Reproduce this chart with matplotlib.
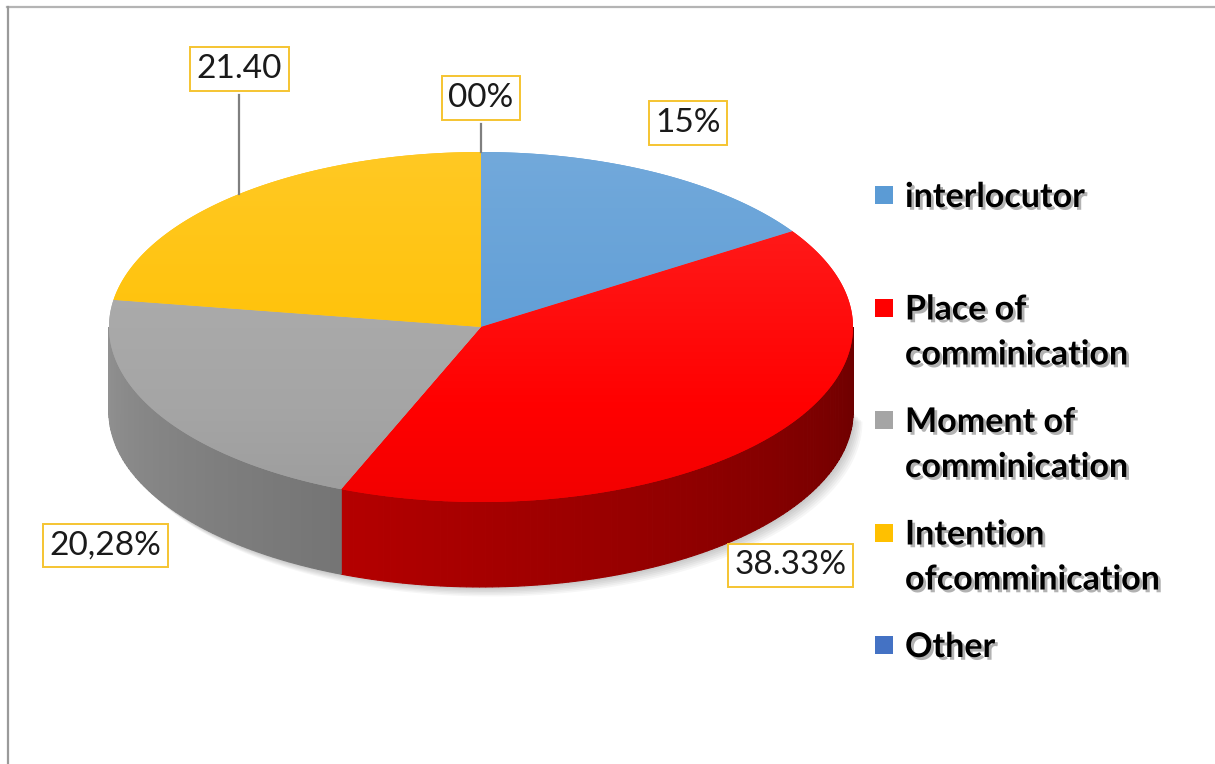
import numpy as np
import matplotlib.pyplot as plt
from matplotlib.patches import Polygon, Rectangle
from matplotlib.colors import to_rgb
import matplotlib.patheffects as pe

plt.rcParams["font.family"] = ["Lato", "DejaVu Sans"]

# datos del gráfico
categorias = ["interlocutor", "Place of\ncomminication", "Moment of\ncomminication",
              "Intention\nofcomminication", "Other"]
valores = [15, 38.33, 20.28, 21.40, 0]
etiquetas = ["15%", "38.33%", "20,28%", "21.40", "00%"]
colores = ["#5b9bd5", "#ff0000", "#a5a5a5", "#ffc000", "#4472c4"]

W, H = 1215, 764
fig = plt.figure(figsize=(W / 100, H / 100), dpi=100)
ax = fig.add_axes([0, 0, 1, 1])

# geometría de la torta 3D (en píxeles)
cx, cy, rx, ry, prof = 481, 327, 372, 175, 85


def borde(t0, t1, n=100):
    # ángulo medido en sentido horario desde las 12
    t = np.radians(np.linspace(t0, t1, n))
    return cx + rx * np.sin(t), cy - ry * np.cos(t)


fracs = np.array(valores) / sum(valores)
limites = np.concatenate([[0], np.cumsum(fracs) * 360])

# sombra suave debajo de la torta
xs, ys = borde(90, 270, 120)
for k in range(6):
    off = 2 + k * 1.5
    sombra = np.column_stack([np.r_[xs + off, cx + off], np.r_[ys + prof + off, cy + prof]])
    ax.add_patch(Polygon(sombra, closed=True, fc="black", ec="none", alpha=0.035, zorder=0))


def pared(t0, t1, color):
    lo, hi = max(t0, 90), min(t1, 270)
    if hi <= lo:
        return
    pasos = np.linspace(lo, hi, int(hi - lo) + 2)
    rgb = np.array(to_rgb(color))
    for a, b in zip(pasos[:-1], pasos[1:]):
        px, py = borde(a, b, 6)
        tono = 0.42 + 0.46 * ((a + b) / 2 - 90) / 180
        c = np.clip(rgb * tono, 0, 1)
        quad = np.column_stack([np.r_[px, px[::-1]], np.r_[py, py[::-1] + prof]])
        ax.add_patch(Polygon(quad, closed=True, fc=c, ec=c, lw=0.8, zorder=1))


for i, c in enumerate(colores):
    pared(limites[i], limites[i + 1], c)

# caras superiores con degradé vertical (más claro al fondo)
for i, c in enumerate(colores):
    t0, t1 = limites[i], limites[i + 1]
    if t1 - t0 <= 0:
        continue
    px, py = borde(t0, t1, max(int(t1 - t0) * 2, 4))
    cara = Polygon(np.column_stack([np.r_[cx, px], np.r_[cy, py]]), closed=True,
                   fc=c, ec="none", zorder=2)
    ax.add_patch(cara)
    rgb = np.array(to_rgb(c))
    mezcla = np.linspace(0.14, -0.05, 256)[:, None, None]
    grad = np.where(mezcla > 0, rgb + (1 - rgb) * mezcla, rgb * (1 + mezcla))
    im = ax.imshow(np.clip(grad, 0, 1), extent=(cx - rx, cx + rx, cy + ry, cy - ry),
                   aspect="auto", zorder=2.1)
    im.set_clip_path(cara)

# etiquetas de datos
caja = dict(boxstyle="square,pad=0.2", fc="white", ec="#f5c431", lw=1.4)
desplaz = {0: (30, -50), 1: (22, 42), 2: (-52, 47)}
for i, txt in enumerate(etiquetas):
    medio = np.radians((limites[i] + limites[i + 1]) / 2)
    axx = cx + rx * np.sin(medio)
    ayy = cy - ry * np.cos(medio)
    if np.cos(medio) < 0:
        ayy += prof
    if i in desplaz:
        dx, dy = desplaz[i]
        ax.text(axx + dx, ayy + dy, txt, fontsize=24, ha="center", va="center",
                color="#1a1a1a", bbox=caja, zorder=5)
    else:
        ty = 69 if i == 3 else 98
        ax.plot([axx, axx], [ty + 26, ayy], color="#7f7f7f", lw=1.6, zorder=4)
        ax.text(axx, ty, txt, fontsize=24, ha="center", va="center",
                color="#1a1a1a", bbox=caja, zorder=5)

# leyenda
sombra_txt = [pe.withSimplePatchShadow(offset=(2, -2), shadow_rgbFace="#555555", alpha=0.45)]
for i, (nombre, c) in enumerate(zip(categorias, colores)):
    y0 = 197 + i * 112.5
    ax.add_patch(Rectangle((875, y0 - 11), 18, 18, fc=c, ec="none", zorder=5))
    for j, linea in enumerate(nombre.split("\n")):
        ax.text(905, y0 + j * 45, linea, fontsize=24.5, fontweight="bold", ha="left",
                va="center", color="black", path_effects=sombra_txt, zorder=5)

# marco
ax.plot([7, W], [6.5, 6.5], color="#b4b4b4", lw=1.6)
ax.plot([7.5, 7.5], [6.5, H], color="#9a9a9a", lw=1.6)

ax.set_xlim(0, W)
ax.set_ylim(H, 0)
ax.axis("off")
fig.savefig("out.png", dpi=100)
